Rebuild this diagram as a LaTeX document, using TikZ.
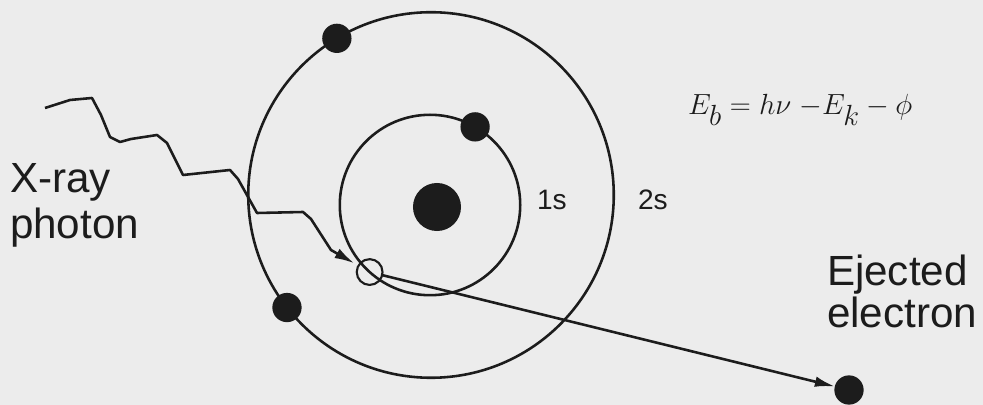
\documentclass[tikz,border=0pt]{standalone}
\usepackage{fontspec}
\setmainfont{Liberation Sans}
\usetikzlibrary{arrows.meta}
\definecolor{paper}{RGB}{236,236,236}
\definecolor{ink}{RGB}{28,28,28}

\begin{document}
\begin{tikzpicture}[x=0.03cm, y=-0.03cm, line width=2.2pt, draw=ink,
  every node/.style={inner sep=0pt, outer sep=0pt, text=ink},
  orbit/.style={circle, draw=ink, line width=2.2pt},
  electron/.style={circle, fill=ink, minimum size=25pt},
  tag/.style={font=\fontsize{36}{40}\selectfont, align=left},
  shell/.style={font=\fontsize{24}{28}\selectfont, anchor=base west},
  head/.style={-{Latex[length=17pt, width=9pt]}}]
\fill[paper] (0,0) rectangle (983,405);
\useasboundingbox (0,0) rectangle (983,405);
\node[orbit, minimum size=312pt] (outer) at (431,195) {};
\node[orbit, minimum size=154pt] (inner) at (430,205) {};
\node[circle, fill=ink, minimum size=41pt] (nucleus) at (437,207) {};
\node[electron] (e2a) at (outer.121.7) {};
\node[electron] (e2b) at (outer.218.4) {};
\node[electron] (e1) at (inner.60.5) {};
\node[circle, draw=ink, line width=1.8pt, minimum size=22pt] (hole) at (inner.228.6) {};
\node[electron] (ejected) at (849,390) {};
\node[shell] (s1) at (537,210) {1s};
\node[shell] (s2) at (638,210) {2s};
\node[anchor=base west, font=\fontsize{33}{38}\selectfont] (eq) at (688,115) {$E_b = h\nu\;{-E_k} - \phi$};
\node[tag, anchor=north west] (xray) at (10,163) {X-ray\\photon};
\node[tag, anchor=north west] (eject) at (827,255) {Ejected\\[-4pt]electron};
\coordinate (src) at (45,108);
% photon path
\draw[head, line join=round, shorten >=4pt] (src) -- (70,100) -- (92,98) -- (101,115) -- (110,137)
  -- (120,142) -- (131,139) -- (157,135) -- (167,143) -- (183,175) -- (230,170) -- (238,179)
  -- (257,213) -- (303,212) -- (311,219) -- (331,250) -- (hole);
\draw[head] (hole) -- (ejected);
\end{tikzpicture}
\end{document}
